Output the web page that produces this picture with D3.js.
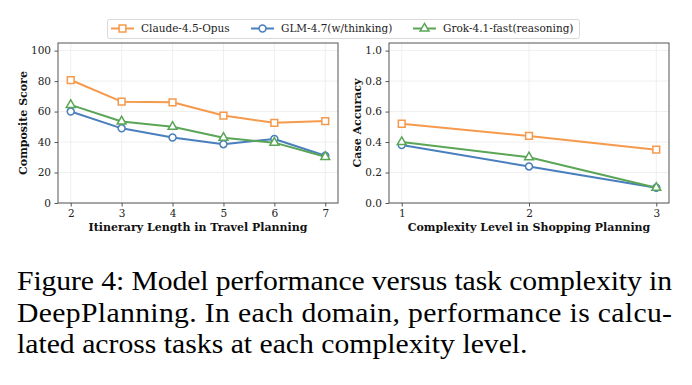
<!DOCTYPE html>
<html>
<head>
<meta charset="utf-8">
<script src="https://cdn.jsdelivr.net/npm/d3@7"></script>
<style>
  body { margin: 0; background: #fff; }
  svg { display: block; }
</style>
</head>
<body>
<div id="chart"></div>
<script>
// data
var models = ["Claude-4.5-Opus", "GLM-4.7(w/thinking)", "Grok-4.1-fast(reasoning)"];
var colors = ["#f59a4c", "#4a7fbd", "#5aa556"];
var markers = ["square", "circle", "triangle"];

var travelLengths = [2, 3, 4, 5, 6, 7];
var travelClaude = [80.7, 66.5, 66.1, 57.4, 52.6, 53.8];
var travelGLM    = [60.0, 49.0, 43.0, 38.6, 42.0, 31.0];
var travelGrok   = [64.4, 53.5, 50.0, 42.8, 39.6, 30.3];

var shopLevels = [1, 2, 3];
var shopClaude = [0.52, 0.44, 0.35];
var shopGLM    = [0.38, 0.24, 0.10];
var shopGrok   = [0.40, 0.30, 0.10];

var travelYTicks = [0, 20, 40, 60, 80, 100];
var shopYTicks = [0, 0.2, 0.4, 0.6, 0.8, 1.0];

var captionLines = [
  "Figure 4: Model performance versus task complexity in",
  "DeepPlanning. In each domain, performance is calcu-",
  "lated across tasks at each complexity level."
];

var W = 692, H = 385;
var svg = d3.select("#chart").append("svg")
    .attr("width", W)
    .attr("height", H);

var serif = "DejaVu Serif";

function panel(opt) {
  var x = d3.scaleLinear().domain(opt.xDomain).range([opt.left, opt.right]);
  var y = d3.scaleLinear().domain(opt.yDomain).range([opt.bottom, opt.top]);
  var g = svg.append("g");

  // grid
  g.append("g").selectAll("line.gx").data(opt.xTicks).enter().append("line")
    .attr("x1", function(d) { return x(d); }).attr("x2", function(d) { return x(d); })
    .attr("y1", opt.top).attr("y2", opt.bottom)
    .attr("stroke", "#ebebeb").attr("stroke-width", 0.8);
  g.append("g").selectAll("line.gy").data(opt.yTicks).enter().append("line")
    .attr("y1", function(d) { return y(d); }).attr("y2", function(d) { return y(d); })
    .attr("x1", opt.left).attr("x2", opt.right)
    .attr("stroke", "#ebebeb").attr("stroke-width", 0.8);

  // axes
  var xa = g.append("g")
    .attr("transform", "translate(0," + opt.bottom + ")")
    .call(d3.axisBottom(x).tickValues(opt.xTicks).tickSize(3.5).tickPadding(3.5).tickFormat(d3.format("d")));
  var ya = g.append("g")
    .attr("transform", "translate(" + opt.left + ",0)")
    .call(d3.axisLeft(y).tickValues(opt.yTicks).tickSize(3.5).tickPadding(3.5).tickFormat(opt.yFormat));
  [xa, ya].forEach(function(a) {
    a.select(".domain").remove();
    a.selectAll(".tick line").attr("stroke", "#555");
    a.selectAll("text").attr("font-family", serif).attr("font-size", 10.5).attr("fill", "#222");
  });

  // frame
  g.append("rect")
    .attr("x", opt.left).attr("y", opt.top)
    .attr("width", opt.right - opt.left).attr("height", opt.bottom - opt.top)
    .attr("fill", "none").attr("stroke", "#555").attr("stroke-width", 1);

  // labels
  g.append("text")
    .attr("x", (opt.left + opt.right) / 2).attr("y", 231)
    .attr("text-anchor", "middle")
    .attr("font-family", serif).attr("font-weight", "bold").attr("font-size", 11)
    .attr("fill", "#111")
    .text(opt.xLabel);
  g.append("text")
    .attr("transform", "translate(" + opt.yLabelX + "," + ((opt.top + opt.bottom) / 2) + ") rotate(-90)")
    .attr("text-anchor", "middle")
    .attr("font-family", serif).attr("font-weight", "bold").attr("font-size", 11)
    .attr("fill", "#111")
    .text(opt.yLabel);

  // series
  var line = d3.line()
    .x(function(d) { return x(d[0]); })
    .y(function(d) { return y(d[1]); });
  opt.series.forEach(function(vals, i) {
    var pts = opt.xTicks.map(function(t, j) { return [t, vals[j]]; });
    g.append("path").datum(pts)
      .attr("d", line)
      .attr("fill", "none")
      .attr("stroke", colors[i])
      .attr("stroke-width", 2)
      .attr("stroke-linejoin", "round");
    g.append("g").selectAll("path").data(pts).enter().append("path")
      .attr("transform", function(d) { return "translate(" + x(d[0]) + "," + y(d[1]) + ")"; })
      .attr("d", markerPath(markers[i]))
      .attr("fill", "#fff")
      .attr("stroke", colors[i])
      .attr("stroke-width", 1.5);
  });
}

function markerPath(kind) {
  if (kind === "square") return d3.symbol(d3.symbolSquare, 46)();
  if (kind === "circle") return d3.symbol(d3.symbolCircle, 38)();
  return d3.symbol(d3.symbolTriangle, 34)();
}

panel({
  left: 58, right: 338, top: 43, bottom: 203,
  xDomain: [1.75, 7.25], yDomain: [0, 105],
  xTicks: travelLengths, yTicks: travelYTicks,
  yFormat: d3.format("d"),
  xLabel: "Itinerary Length in Travel Planning",
  yLabel: "Composite Score", yLabelX: 27,
  series: [travelClaude, travelGLM, travelGrok]
});

panel({
  left: 389, right: 669, top: 43, bottom: 203,
  xDomain: [0.9, 3.1], yDomain: [0, 1.05],
  xTicks: shopLevels, yTicks: shopYTicks,
  yFormat: d3.format(".1f"),
  xLabel: "Complexity Level in Shopping Planning",
  yLabel: "Case Accuracy", yLabelX: 361,
  series: [shopClaude, shopGLM, shopGrok]
});

// legend
var legend = svg.append("g");
legend.append("rect")
  .attr("x", 107.5).attr("y", 19.5).attr("width", 472).attr("height", 19)
  .attr("rx", 2).attr("fill", "#fff").attr("stroke", "#d9d9d9").attr("stroke-width", 1);
var legendX = [111, 251, 413];
models.forEach(function(m, i) {
  var lx = legendX[i];
  legend.append("line")
    .attr("x1", lx).attr("x2", lx + 23).attr("y1", 28.5).attr("y2", 28.5)
    .attr("stroke", colors[i]).attr("stroke-width", 2);
  legend.append("path")
    .attr("transform", "translate(" + (lx + 11.5) + ",28.5)")
    .attr("d", markerPath(markers[i]))
    .attr("fill", "#fff").attr("stroke", colors[i]).attr("stroke-width", 1.5);
  legend.append("text")
    .attr("x", lx + 30).attr("y", 32)
    .attr("font-family", serif).attr("font-size", 10.5).attr("fill", "#222")
    .text(m);
});

// caption (Times-like, wide in the source image)
var capScale = 1.13;
var cap = svg.append("g")
  .attr("transform", "translate(17,0) scale(" + capScale + ",1)");
captionLines.forEach(function(t, i) {
  var txt = cap.append("text")
    .attr("x", 0).attr("y", 290.5 + i * 31.5)
    .attr("font-family", "Liberation Serif")
    .attr("font-size", 26.3).attr("fill", "#000")
    .text(t);
  if (i < 2) txt.attr("textLength", 655 / capScale).attr("lengthAdjust", "spacing");
});
</script>
</body>
</html>
